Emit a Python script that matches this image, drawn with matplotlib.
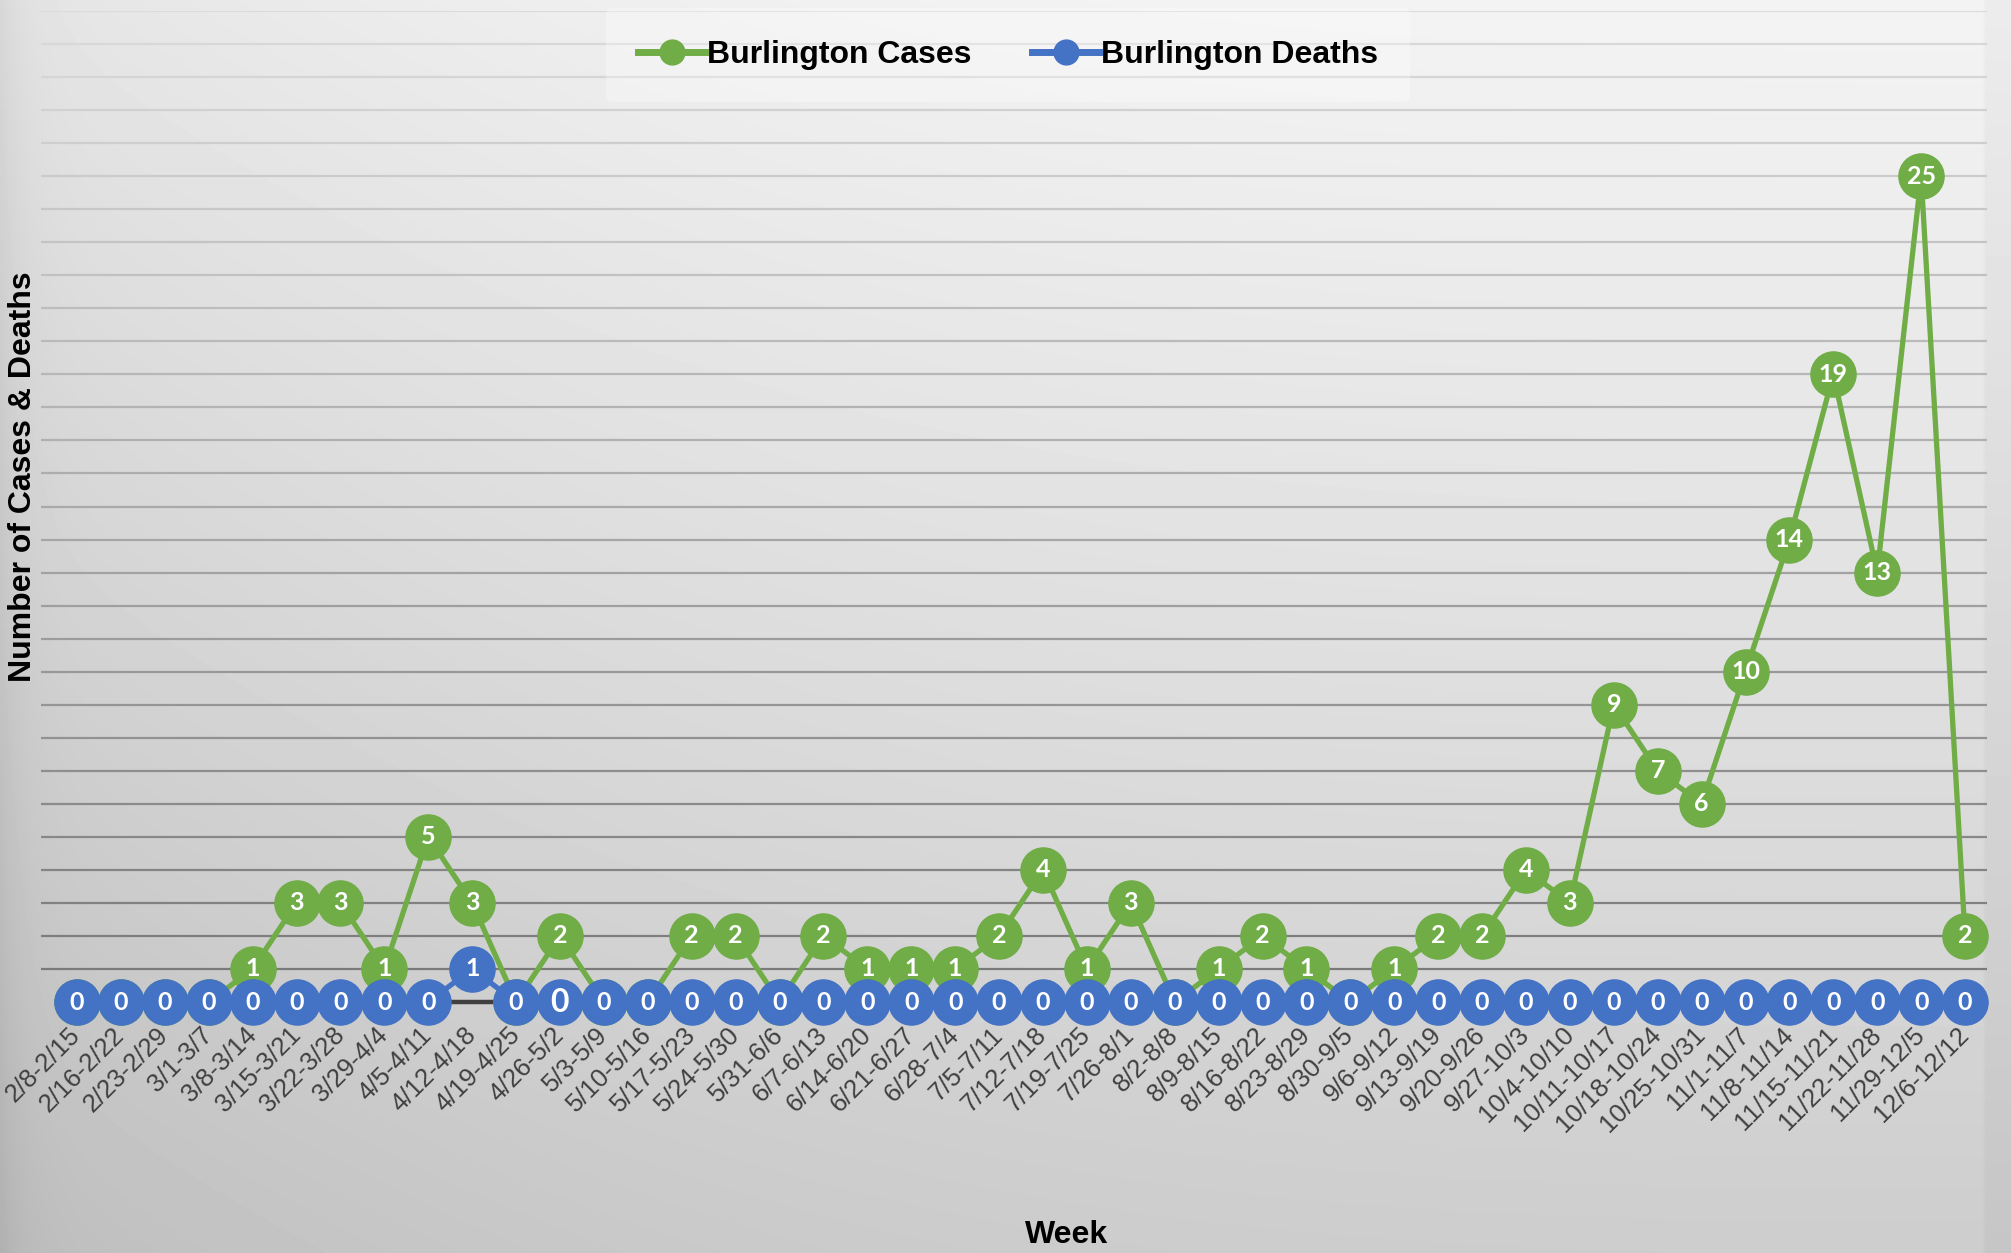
import numpy as np
import matplotlib
matplotlib.use("Agg")
from matplotlib import pyplot as plt
from matplotlib import font_manager

weeks = ["2/8-2/15", "2/16-2/22", "2/23-2/29", "3/1-3/7", "3/8-3/14", "3/15-3/21",
         "3/22-3/28", "3/29-4/4", "4/5-4/11", "4/12-4/18", "4/19-4/25", "4/26-5/2",
         "5/3-5/9", "5/10-5/16", "5/17-5/23", "5/24-5/30", "5/31-6/6", "6/7-6/13",
         "6/14-6/20", "6/21-6/27", "6/28-7/4", "7/5-7/11", "7/12-7/18", "7/19-7/25",
         "7/26-8/1", "8/2-8/8", "8/9-8/15", "8/16-8/22", "8/23-8/29", "8/30-9/5",
         "9/6-9/12", "9/13-9/19", "9/20-9/26", "9/27-10/3", "10/4-10/10", "10/11-10/17",
         "10/18-10/24", "10/25-10/31", "11/1-11/7", "11/8-11/14", "11/15-11/21",
         "11/22-11/28", "11/29-12/5", "12/6-12/12"]
cases = [0, 0, 0, 0, 1, 3, 3, 1, 5, 3, 0, 2, 0, 0, 2, 2, 0, 2, 1, 1, 1, 2, 4, 1, 3, 0,
         1, 2, 1, 0, 1, 2, 2, 4, 3, 9, 7, 6, 10, 14, 19, 13, 25, 2]
deaths = [0, 0, 0, 0, 0, 0, 0, 0, 0, 1, 0, 0, 0, 0, 0, 0, 0, 0, 0, 0, 0, 0, 0, 0, 0, 0,
          0, 0, 0, 0, 0, 0, 0, 0, 0, 0, 0, 0, 0, 0, 0, 0, 0, 0]

GREEN = "#70AD47"
BLUE = "#4472C4"

names = {f.name for f in font_manager.fontManager.ttflist}
label_family = "Lato" if "Lato" in names else "DejaVu Sans"

plt.rcParams["font.family"] = ["Liberation Sans", "DejaVu Sans"]

fig = plt.figure(figsize=(20.11, 12.53), dpi=100)

# gray gradient background
yy, xx = np.mgrid[0:1:300j, 0:1:600j]
bg = 0.955 - 0.15 * yy - 0.06 * (1 - xx) ** 3
bg -= 0.05 * np.exp(-xx / 0.012)
bg[:, xx[0] > 0.988] -= 0.03
ax_bg = fig.add_axes([0, 0, 1, 1], zorder=-10)
ax_bg.imshow(bg, cmap="gray", vmin=0, vmax=1, aspect="auto", interpolation="bilinear")
ax_bg.axis("off")

W, H = 2011, 1253
ax = fig.add_axes([41 / W, 251 / H, (1987 - 41) / W, (1242 - 251) / H])
ax.set_facecolor("none")
x = np.arange(len(weeks))
ax.set_xlim(-0.82, len(weeks) - 0.5)
ax.set_ylim(0, 30)

# horizontal gridlines, darker towards the bottom
for g in range(1, 31):
    shade = 0.48 + 0.38 * (g - 1) / 29
    ax.axhline(g, color=str(shade), lw=1.6, zorder=1)
ax.hlines(0, -0.5, len(weeks) - 0.5, color="#404040", lw=3.2, zorder=1.5, clip_on=False)

ax.plot(x, cases, color=GREEN, lw=3.8, marker="o", ms=32.5, mec=GREEN, mfc=GREEN,
        label="Burlington Cases", zorder=3, clip_on=False)
for i, v in enumerate(cases):
    ax.text(i, v, str(v), ha="center", va="center", color="white", fontsize=18,
            fontweight="bold", family=label_family, zorder=4)

ax.plot(x, deaths, color=BLUE, lw=3.8, marker="o", ms=32.5, mec=BLUE, mfc=BLUE,
        label="Burlington Deaths", zorder=5, clip_on=False)
for i, v in enumerate(deaths):
    ax.text(i, v, str(v), ha="center", va="center", color="white",
            fontsize=23 if i == 11 else 18, fontweight="bold", family=label_family, zorder=6)

ax.set_yticks([])
ax.set_xticks(x)
ax.set_xticklabels(weeks, rotation=45, ha="right", va="center", rotation_mode="anchor",
                   fontsize=18.5, color="#404040")
ax.tick_params(axis="x", length=0, pad=21)
for s in ax.spines.values():
    s.set_visible(False)

fig.text(23 / W, 1 - 477 / H, "Number of Cases & Deaths", rotation=90, ha="center",
         va="center", fontsize=23, fontweight="bold")
fig.text(1067 / W, 1 - 1235 / H, "Week", ha="center", va="center", fontsize=23,
         fontweight="bold")

leg = ax.legend(loc="center", bbox_to_anchor=(1008 / W, 1 - 55 / H), bbox_transform=fig.transFigure,
                ncol=2, frameon=True, markerscale=0.55, handlelength=2.1, handletextpad=0.05,
                columnspacing=1.9, prop={"weight": "bold", "size": 23},
                borderpad=1.0, borderaxespad=0)
leg.get_frame().set_facecolor("white")
leg.get_frame().set_alpha(0.3)
leg.get_frame().set_edgecolor("none")
for h in leg.legend_handles:
    h.set_linewidth(5)

fig.savefig("out.png", dpi=100)
